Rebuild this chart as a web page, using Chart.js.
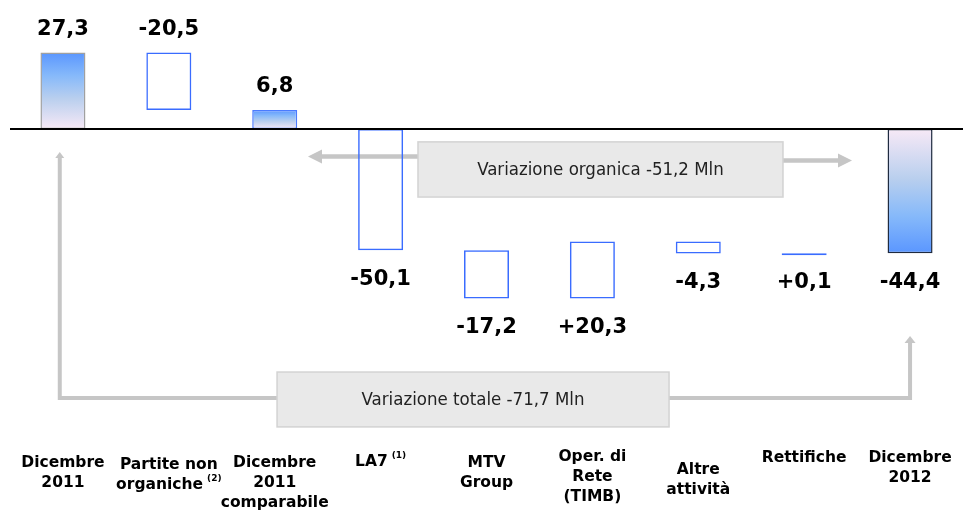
<!DOCTYPE html>
<html lang="it">
<head>
<meta charset="utf-8">
<title>Variazione Dicembre 2011 - Dicembre 2012</title>
<script src="https://cdn.jsdelivr.net/npm/chart.js@4.4.1/dist/chart.umd.min.js"></script>
<style>
    html, body { margin: 0; padding: 0; background: #fff; }
    #wrap { position: relative; width: 963px; height: 510px; }
</style>
</head>
<body>
<div id="wrap"><canvas id="bridgeChart"></canvas></div>
<script>
// Bridge chart: Dicembre 2011 -> Dicembre 2012 (Mln)
const categories = [
    ['Dicembre', '2011'],
    ['Partite non', 'organiche'],
    ['Dicembre', '2011', 'comparabile'],
    ['LA7'],
    ['MTV', 'Group'],
    ['Oper. di', 'Rete', '(TIMB)'],
    ['Altre', 'attività'],
    ['Rettifiche'],
    ['Dicembre', '2012']
];
const footnotes = ['', '(2)', '', '(1)', '', '', '', '', ''];
const values = [27.3, -20.5, 6.8, -50.1, -17.2, 20.3, -4.3, 0.1, -44.4];
const isTotal = [true, false, true, false, false, false, false, false, true];
const organicNote = 'Variazione organica -51,2 Mln';
const totalNote = 'Variazione totale -71,7 Mln';

(function () {
    'use strict';

    const ARROW = '#C6C6C6';
    const BOX_FILL = '#E9E9E9';
    const BOX_EDGE = '#D3D3D3';
    const DELTA_EDGE = '#3A6CFF';
    const totalEdges = { 0: '#A0A0A0', 2: '#4A7BFF', 8: '#1F2B40' };
    // first-line centre of each category label (px)
    const labelRows = [463, 465, 463, 462, 463, 457, 470, 458, 458];

    function buildRanges() {
        let run = 0;
        return values.map((v, i) => {
            let from, to;
            if (isTotal[i]) { from = 0; to = v; run = v; }
            else { from = run; to = run + v; run = to; }
            // bars crossing the baseline start from it
            if (from > 0 && to < 0) from = 0;
            return [from, to];
        });
    }

    function fmt(i) {
        const v = values[i];
        const s = Math.abs(v).toFixed(1).replace('.', ',');
        if (v < 0) return '-' + s;
        return isTotal[i] ? s : '+' + s;
    }

    function barFill(c) {
        const i = c.dataIndex;
        if (!isTotal[i]) return 'rgba(0,0,0,0)';
        const y = c.chart.scales.y;
        if (!y) return '#8DB8F6';
        const a = y.getPixelForValue(0), b = y.getPixelForValue(values[i]);
        if (!isFinite(a) || !isFinite(b) || a === b) return '#8DB8F6';
        const g = c.chart.ctx.createLinearGradient(0, a, 0, b);
        g.addColorStop(0, '#F7E9F6');
        g.addColorStop(0.4, '#B9CFEE');
        g.addColorStop(0.7, '#86B9FA');
        g.addColorStop(1, '#5A96FF');
        return g;
    }

    function barEdge(c) {
        return isTotal[c.dataIndex] ? totalEdges[c.dataIndex] : DELTA_EDGE;
    }

    function arrowHead(ctx, tx, ty, dx, dy, len, half) {
        // dx, dy: unit direction of the arrow
        ctx.beginPath();
        ctx.moveTo(tx, ty);
        ctx.lineTo(tx - dx * len - dy * half, ty - dy * len + dx * half);
        ctx.lineTo(tx - dx * len + dy * half, ty - dy * len - dx * half);
        ctx.closePath();
        ctx.fill();
    }

    function noteBox(ctx, l, t, r, b, text) {
        ctx.fillStyle = BOX_FILL;
        ctx.fillRect(l, t, r - l, b - t);
        ctx.strokeStyle = BOX_EDGE;
        ctx.lineWidth = 1.5;
        ctx.strokeRect(l, t, r - l, b - t);
        ctx.fillStyle = '#222';
        ctx.font = '18.5px "DejaVu Sans Condensed", "DejaVu Sans", sans-serif';
        ctx.textAlign = 'center';
        ctx.textBaseline = 'middle';
        ctx.fillText(text, (l + r) / 2, (t + b) / 2 + 1);
    }

    const bridgeDecor = {
        id: 'bridgeDecor',
        beforeDatasetsDraw(chart) {
            const { ctx, scales: { x, y } } = chart;
            const px = v => x.getPixelForValue(v);
            const py = v => y.getPixelForValue(v);
            ctx.save();
            ctx.strokeStyle = ARROW;
            ctx.fillStyle = ARROW;
            ctx.lineCap = 'butt';

            // organic variation: LA7 .. Rettifiche
            const oL = px(3.353), oR = px(6.8), oT = py(-4.6), oB = py(-24.3);
            const lTip = px(2.314), rTip = px(7.452);
            const lY = py(-9.8), rY = py(-11.25);
            ctx.lineWidth = 4.5;
            ctx.beginPath();
            ctx.moveTo(oL, lY); ctx.lineTo(lTip + 12, lY);
            ctx.moveTo(oR, rY); ctx.lineTo(rTip - 12, rY);
            ctx.stroke();
            arrowHead(ctx, lTip, lY, -1, 0, 14, 7);
            arrowHead(ctx, rTip, rY, 1, 0, 14, 7);
            noteBox(ctx, oL, oT, oR, oB, organicNote);

            // total variation: Dicembre 2011 .. Dicembre 2012
            const tL = px(2.022), tR = px(5.724), tT = py(-86.8), tB = py(-106.4);
            const aX = px(-0.03), bX = px(8);
            const baseY = py(-96.1);
            ctx.strokeStyle = ARROW;
            ctx.fillStyle = ARROW;
            ctx.lineWidth = 4;
            ctx.beginPath();
            ctx.moveTo(aX, py(-8.2) + 5);
            ctx.lineTo(aX, baseY);
            ctx.lineTo(tL, baseY);
            ctx.moveTo(tR, baseY);
            ctx.lineTo(bX, baseY);
            ctx.lineTo(bX, py(-73.9) + 6);
            ctx.stroke();
            arrowHead(ctx, aX, py(-8.2), 0, -1, 6, 4.5);
            arrowHead(ctx, bX, py(-73.9), 0, -1, 7, 5.5);
            noteBox(ctx, tL, tT, tR, tB, totalNote);
            ctx.restore();
        },
        afterDatasetsDraw(chart) {
            const { ctx, chartArea, scales: { x, y } } = chart;
            const y0 = y.getPixelForValue(0);
            const ranges = chart.data.datasets[0].data;
            ctx.save();

            // baseline
            ctx.strokeStyle = '#000';
            ctx.lineWidth = 2;
            ctx.beginPath();
            ctx.moveTo(chartArea.left, y0);
            ctx.lineTo(chartArea.right, y0);
            ctx.stroke();

            // value labels
            ctx.fillStyle = '#000';
            ctx.font = 'bold 21px "DejaVu Sans", sans-serif';
            ctx.textAlign = 'center';
            ctx.textBaseline = 'middle';
            ranges.forEach((r, i) => {
                const lo = Math.min(r[0], r[1]), hi = Math.max(r[0], r[1]);
                const cx = x.getPixelForValue(i);
                if (lo >= 0) ctx.fillText(fmt(i), cx, y.getPixelForValue(hi) - 23);
                else ctx.fillText(fmt(i), cx, y.getPixelForValue(lo) + 29);
            });

            // category labels
            ctx.fillStyle = '#000';
            categories.forEach((lines, i) => {
                const cx = x.getPixelForValue(i);
                lines.forEach((line, k) => {
                    const ly = labelRows[i] + k * 20;
                    const sup = k === lines.length - 1 ? footnotes[i] : '';
                    ctx.font = 'bold 15.5px "DejaVu Sans", sans-serif';
                    ctx.textBaseline = 'middle';
                    if (!sup) {
                        ctx.textAlign = 'center';
                        ctx.fillText(line, cx, ly);
                        return;
                    }
                    const wMain = ctx.measureText(line).width;
                    ctx.font = 'bold 9px "DejaVu Sans", sans-serif';
                    const wSup = ctx.measureText(sup).width;
                    const start = cx - (wMain + 4 + wSup) / 2;
                    ctx.textAlign = 'left';
                    ctx.fillText(sup, start + wMain + 4, ly - 6);
                    ctx.font = 'bold 15.5px "DejaVu Sans", sans-serif';
                    ctx.fillText(line, start, ly);
                });
            });
            ctx.restore();
        }
    };

    function init() {
        const ctx = document.getElementById('bridgeChart');
        new Chart(ctx, {
            type: 'bar',
            data: {
                labels: categories.map(c => c.join(' ')),
                datasets: [{
                    data: buildRanges(),
                    backgroundColor: barFill,
                    borderColor: barEdge,
                    borderWidth: 1.5,
                    borderSkipped: false,
                    minBarLength: 2,
                    barPercentage: 0.425,
                    categoryPercentage: 1
                }]
            },
            options: {
                responsive: true,
                maintainAspectRatio: false,
                animation: false,
                layout: { padding: { left: 10, right: 0, top: 0, bottom: 0 } },
                plugins: { legend: { display: false }, tooltip: { enabled: false } },
                scales: {
                    x: { display: false, offset: true, grid: { display: false } },
                    y: { display: false, min: -136.07, max: 46.07 }
                }
            },
            plugins: [bridgeDecor]
        });
    }

    document.addEventListener('DOMContentLoaded', init);
})();
</script>
</body>
</html>
